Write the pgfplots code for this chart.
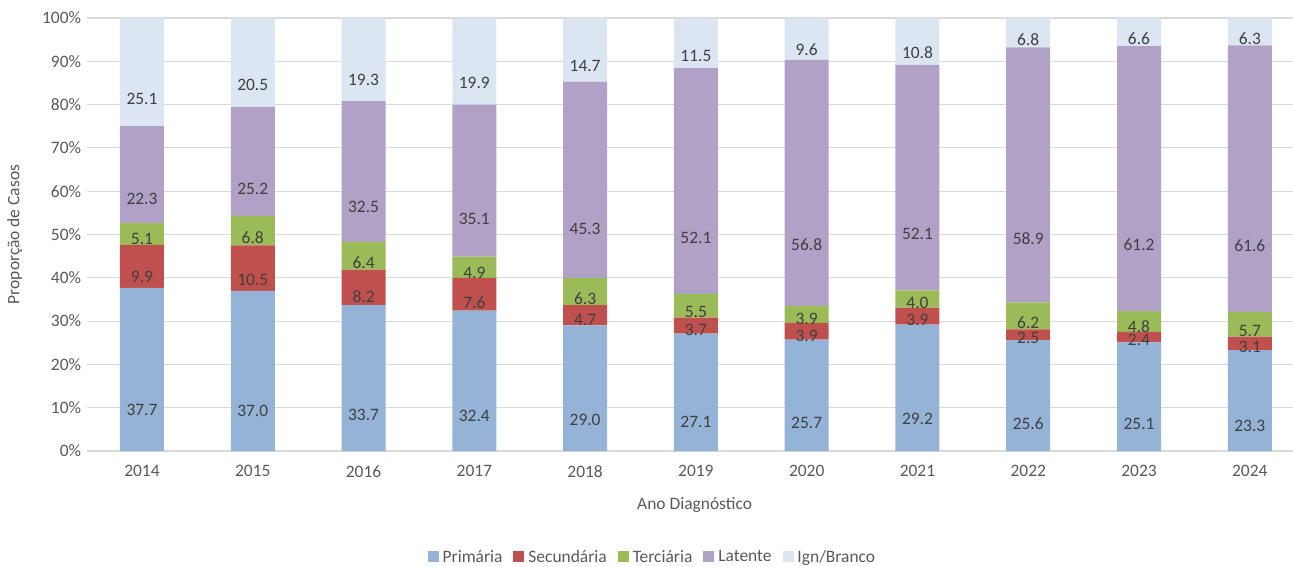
\documentclass[border=0pt]{standalone}
\usepackage{pgfplots}
\pgfplotsset{compat=1.18}
\usepackage{pgfplotstable}
\usepackage{fontspec}
\setmainfont{Carlito}
\definecolor{cP}{RGB}{149,179,215}
\definecolor{cS}{RGB}{192,80,77}
\definecolor{cT}{RGB}{155,187,89}
\definecolor{cL}{RGB}{178,161,199}
\definecolor{cI}{RGB}{220,230,242}
\definecolor{tickc}{RGB}{89,89,89}
\definecolor{labc}{RGB}{64,64,64}
\definecolor{gridc}{RGB}{217,217,217}
\pgfplotstableread{
x year P S T L I
0 2014 37.7 9.9 5.1 22.3 25.1
1 2015 37.0 10.5 6.8 25.2 20.5
2 2016 33.7 8.2 6.4 32.5 19.3
3 2017 32.4 7.6 4.9 35.1 19.9
4 2018 29.0 4.7 6.3 45.3 14.7
5 2019 27.1 3.7 5.5 52.1 11.5
6 2020 25.7 3.9 3.9 56.8 9.6
7 2021 29.2 3.9 4.0 52.1 10.8
8 2022 25.6 2.5 6.2 58.9 6.8
9 2023 25.1 2.4 4.8 61.2 6.6
10 2024 23.3 3.1 5.7 61.6 6.3
}\data
\begin{document}
\begin{tikzpicture}[x=1bp,y=1bp]
\begin{axis}[
  scale only axis,
  width=1206.4bp, height=433bp,
  ybar stacked,
  bar width=44bp,
  xmin=-0.5, xmax=10.39,
  ymin=0, ymax=100,
  xtick=data,
  xticklabels={2014,2015,2016,2017,2018,2019,2020,2021,2022,2023,2024},
  ytick={0,10,...,100},
  yticklabel={\pgfmathprintnumber{\tick}\%},
  /pgf/number format/assume math mode=true,
  ymajorgrids,
  grid style={gridc, line width=1.2bp},
  axis line style={draw=none},
  major tick style={draw=none},
  ticklabel style={font=\fontsize{17.5}{20}\selectfont, text=tickc},
  xticklabel style={yshift=-11bp},
  yticklabel style={xshift=-2bp},
  xlabel={Ano Diagnóstico},
  ylabel={Proporção de Casos},
  label style={font=\fontsize{17.5}{20}\selectfont, text=tickc},
  xlabel style={at={(axis description cs:0.504,-0.125)}, anchor=center},
  ylabel style={at={(axis description cs:-0.0595,0.5)}, anchor=center, rotate=0},
  legend style={at={(axis description cs:0.469,-0.245)}, anchor=center,
    draw=none, legend columns=-1, font=\fontsize{17.5}{20}\selectfont, text=tickc,
    /tikz/every even column/.append style={column sep=9bp},
    /tikz/every odd column/.append style={column sep=2bp}},
  legend image code/.code={\fill[#1] (0bp,-5bp) rectangle (11bp,6bp);},
  point meta=explicit,
  visualization depends on=rawy \as \rawy,
  nodes near coords={\pgfmathprintnumber[fixed,fixed zerofill,precision=1]{\pgfplotspointmeta}},
  every node near coord/.append style={
    font=\fontsize{17.5}{20}\selectfont, text=labc, anchor=center,
    shift={(axis direction cs:0,-\rawy/4)}},
  clip=false,
]
\addplot[fill=cP, draw=none] table[x=x, y=P, meta=P] {\data};
\addplot[fill=cS, draw=none] table[x=x, y=S, meta=S] {\data};
\addplot[fill=cT, draw=none] table[x=x, y=T, meta=T] {\data};
\addplot[fill=cL, draw=none] table[x=x, y=L, meta=L] {\data};
\addplot[fill=cI, draw=none] table[x=x, y=I, meta=I] {\data};
\legend{Primária,Secundária,Terciária,Latente,Ign/Branco}
\end{axis}
\pgfresetboundingbox
\path ([xshift=-86.6bp,yshift=-115bp]current axis.south west) rectangle ([yshift=18bp]current axis.north east);
\end{tikzpicture}
\end{document}
